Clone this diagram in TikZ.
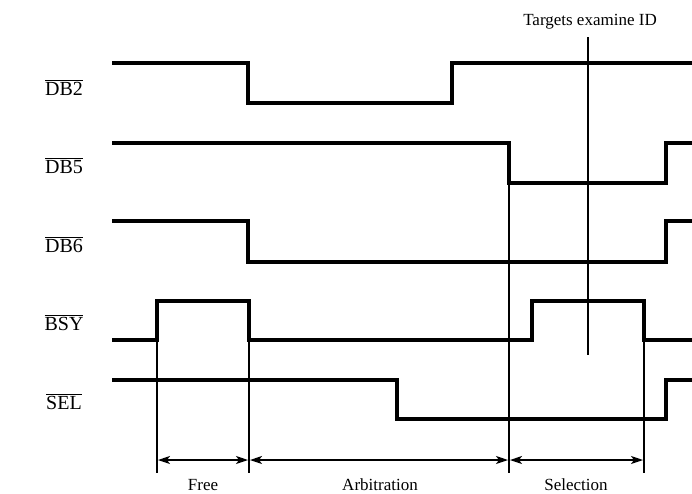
\documentclass[tikz,border=0pt]{standalone}
\usepackage{fontspec}
\setmainfont{Liberation Serif}
\usetikzlibrary{arrows.meta}
\newcommand{\sigbar}[1]{$\overline{\hbox{#1}}$}
\begin{document}
\begin{tikzpicture}[x=1pt,y=-1pt,
  sig/.style={line width=3.2pt, line join=miter},
  guide/.style={line width=1.3pt},
  dim/.style={line width=1.4pt, shorten >=1pt, shorten <=1pt,
    {Stealth[length=12pt,width=8pt,inset=3pt]}-{Stealth[length=12pt,width=8pt,inset=3pt]}},
  lab/.style={font=\fontsize{20}{22}\selectfont, anchor=base, inner sep=0pt},
  txt/.style={font=\fontsize{17}{19}\selectfont, anchor=base, inner sep=0pt}]
\useasboundingbox (0,0) rectangle (692,493);

% signal names
\node[lab] (ndb2) at (64,95) {\sigbar{DB2}};
\node[lab] (ndb5) at (64,173) {\sigbar{DB5}};
\node[lab] (ndb6) at (64,252) {\sigbar{DB6}};
\node[lab] (nbsy) at (64,330) {\sigbar{BSY}};
\node[lab] (nsel) at (64,409) {\sigbar{SEL}};

% waveforms
\draw[sig] (112,63) -- (248,63) -- (248,103) -- (452,103) -- (452,63) -- (692,63);
\draw[sig] (112,143) -- (509,143) -- (509,183) -- (666,183) -- (666,143) -- (692,143);
\draw[sig] (112,221) -- (248,221) -- (248,262) -- (666,262) -- (666,221) -- (692,221);
\draw[sig] (112,340) -- (157,340) -- (157,301) -- (249,301) -- (249,340) -- (532,340)
  -- (532,301) -- (644,301) -- (644,340) -- (692,340);
\draw[sig] (112,380) -- (397,380) -- (397,419) -- (666,419) -- (666,380) -- (692,380);

% guide lines
\coordinate (g1t) at (157,340); \coordinate (g1b) at (157,473);
\coordinate (g2t) at (249,340); \coordinate (g2b) at (249,473);
\coordinate (g3t) at (509,183); \coordinate (g3b) at (509,473);
\coordinate (g4t) at (644,340); \coordinate (g4b) at (644,473);
\coordinate (tt) at (588,37);   \coordinate (tb) at (588,355);
\draw[guide] (g1t) -- (g1b);
\draw[guide] (g2t) -- (g2b);
\draw[guide] (g3t) -- (g3b);
\draw[guide] (g4t) -- (g4b);
\draw[guide] (tt) -- (tb);

% interval arrows
\coordinate (a1) at (157,460);
\coordinate (a2) at (249,460);
\coordinate (a3) at (509,460);
\coordinate (a4) at (644,460);
\draw[dim] (a1) -- (a2);
\draw[dim] (a2) -- (a3);
\draw[dim] (a3) -- (a4);

% labels
\node[txt] (free) at (203,490) {Free};
\node[txt] (arb) at (380,490) {Arbitration};
\node[txt] (sel) at (576,490) {Selection};
\node[txt] (tei) at (590,25) {Targets examine ID};
\end{tikzpicture}
\end{document}
